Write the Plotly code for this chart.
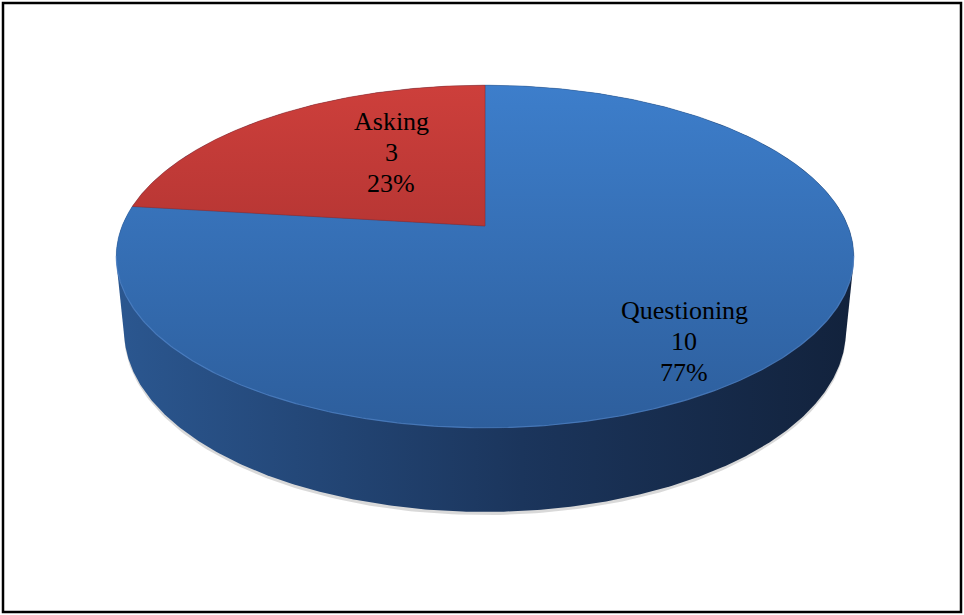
import numpy as np
import plotly.graph_objects as go

# ---- data -------------------------------------------------------------
labels = ["Questioning", "Asking"]
values = [10, 3]
top_colors = ["#3d7ecb", "#cd3f3b"]      # lighter shade at the far edge
bottom_colors = ["#2d5e9c", "#992a2a"]   # darker shade toward the viewer
side_colors = ["#2b5790", "#12223c"]     # wall of the cylinder, left -> right

# ---- 3-D pie projection -------------------------------------------------
W, H_PX = 964, 615
CX, CY = 485.0, 226.0          # screen position of the pie centre
FOCAL = 1813.0
DIST = 4.996
TILT = np.radians(27.2)
DEPTH = 0.233                  # thickness of the pie (radius = 1)


def project(x, y, z):
    d = DIST + y * np.cos(TILT) - z * np.sin(TILT)
    v = y * np.sin(TILT) + z * np.cos(TILT)
    return CX + FOCAL * x / d, CY - FOCAL * v / d


def circle(z, n=720):
    th = np.linspace(0, 2 * np.pi, n, endpoint=False)
    return project(np.sin(th), np.cos(th), z)


def hull(px, py):
    pts = sorted(set(zip(np.round(px, 3), np.round(py, 3))))

    def cross(o, a, b):
        return (a[0] - o[0]) * (b[1] - o[1]) - (a[1] - o[1]) * (b[0] - o[0])

    lower, upper = [], []
    for p in pts:
        while len(lower) >= 2 and cross(lower[-2], lower[-1], p) <= 0:
            lower.pop()
        lower.append(p)
    for p in reversed(pts):
        while len(upper) >= 2 and cross(upper[-2], upper[-1], p) <= 0:
            upper.pop()
        upper.append(p)
    h = lower[:-1] + upper[:-1]
    h.append(h[0])
    return [p[0] for p in h], [p[1] for p in h]


fig = go.Figure()

# soft shadow under the front rim
th_front = np.linspace(np.radians(100), np.radians(260), 200)
sx, sy = project(np.sin(th_front) * 0.995, np.cos(th_front) * 0.995, -DEPTH)
fig.add_trace(go.Scatter(x=sx, y=np.array(sy) + 2.5, mode="lines",
                         line=dict(color="rgba(130,130,130,0.3)", width=4),
                         hoverinfo="skip", showlegend=False))

# cylinder wall: outline of the top and bottom discs together
tx, ty = circle(0.0)
bx, by = circle(-DEPTH)
hx, hy = hull(np.concatenate([tx, bx]), np.concatenate([ty, by]))
fig.add_trace(go.Scatter(
    x=hx, y=hy, mode="lines", fill="toself",
    line=dict(width=0, color=side_colors[1]),
    fillgradient=dict(type="horizontal",
                      colorscale=[[0, side_colors[0]], [0.55, "#1b355c"], [1, side_colors[1]]]),
    hoverinfo="skip", showlegend=False))

# top face slices, clockwise from 12 o'clock
total = sum(values)
ytop = CY - FOCAL * np.sin(TILT) / (DIST + np.cos(TILT))
ybot = CY + FOCAL * np.sin(TILT) / (DIST - np.cos(TILT))
start = 0.0
for name, val, c0, c1 in zip(labels, values, top_colors, bottom_colors):
    a0 = start / total * 2 * np.pi
    a1 = (start + val) / total * 2 * np.pi
    th = np.linspace(a0, a1, 400)
    ax, ay = project(np.sin(th), np.cos(th), 0.0)
    px = np.concatenate([[CX], ax, [CX]])
    py = np.concatenate([[CY], ay, [CY]])
    fig.add_trace(go.Scatter(
        x=px, y=py, mode="lines", fill="toself",
        line=dict(width=0.5, color=c1),
        fillgradient=dict(type="vertical", start=ytop, stop=ybot,
                          colorscale=[[0, c0], [1, c1]]),
        name=name, hoverinfo="skip", showlegend=False))
    start += val

# faint bevel along the front rim of the top face
th_rim = np.linspace(np.radians(100), np.radians(260), 300)
rx, ry = project(np.sin(th_rim), np.cos(th_rim), 0.0)
fig.add_trace(go.Scatter(x=rx, y=ry, mode="lines",
                         line=dict(color="rgba(95,145,215,0.55)", width=1.2),
                         hoverinfo="skip", showlegend=False))

# data labels: category, value, percentage (one line each)
label_pos = {"Questioning": (684, 310), "Asking": (391, 121)}
LINE_GAP = 31
for name, val in zip(labels, values):
    lx, ly = label_pos[name]
    lines = [name, str(val), f"{round(100 * val / total)}%"]
    for i, txt in enumerate(lines):
        fig.add_annotation(x=lx, y=ly + i * LINE_GAP, xref="x", yref="y",
                           showarrow=False, text=txt, yanchor="middle",
                           font=dict(family="Liberation Serif", size=26, color="black"))

# outer frame
fig.add_shape(type="rect", x0=3, y0=3, x1=961, y1=612, xref="x", yref="y",
              line=dict(color="black", width=2.5))

fig.update_layout(
    width=W, height=H_PX,
    margin=dict(l=0, r=0, t=0, b=0),
    paper_bgcolor="white", plot_bgcolor="white",
    xaxis=dict(range=[0, W], visible=False, fixedrange=True),
    yaxis=dict(range=[H_PX, 0], visible=False, fixedrange=True),
)

fig.write_html("out.html")
